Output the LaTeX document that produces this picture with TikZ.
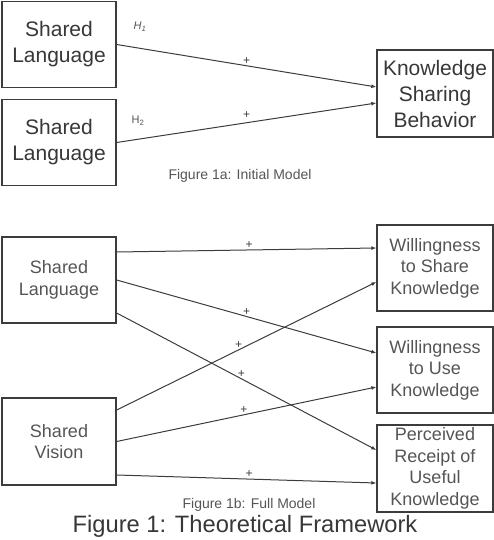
\documentclass[tikz,border=0pt]{standalone}
\usepackage{fontspec}
\setmainfont{Liberation Sans}
\usetikzlibrary{arrows.meta,positioning}
\definecolor{BoxGray}{RGB}{60,60,60}
\definecolor{TextGray}{RGB}{55,55,55}
\definecolor{SoftText}{RGB}{85,85,85}

\begin{document}
\begin{tikzpicture}[x=1pt, y=-1pt,
    bigbox/.style={draw=BoxGray, line width=1.3pt, minimum width=114pt, minimum height=86pt, inner sep=0pt, align=center, text=TextGray, font=\fontsize{21}{26}\selectfont},
    smallbox/.style={draw=BoxGray, line width=1.3pt, minimum width=114pt, minimum height=86pt, inner sep=0pt, align=center, text=SoftText, font=\fontsize{18}{21.5}\selectfont},
    parrow/.style={-{Latex[length=5pt,width=4pt]}, line width=1pt, draw=BoxGray},
    plus/.style={above=1pt, inner sep=0pt, text=BoxGray, font=\fontsize{12}{14}\selectfont},
    hyp/.style={inner sep=0pt, text=SoftText, font=\fontsize{11}{13}\selectfont},
    figcap/.style={text=SoftText, font=\fontsize{14}{16}\selectfont}
  ]
    \useasboundingbox (0,0) rectangle (494,540);

    % Figure 1a
    \node[bigbox] (lang1) at (59,44.5) {Shared\\Language};
    \node[bigbox] (lang2) at (59,142.5) {Shared\\Language};
    \node[bigbox, minimum width=116pt, minimum height=87pt] (ksb) at (435,93.5) {Knowledge\\Sharing\\Behavior};

    \draw[parrow] (lang1.east) -- node[plus, pos=0.5]{+} ([yshift=6.5pt]ksb.west);
    \draw[parrow] (lang2.east) -- node[plus, pos=0.5, above=4pt]{+} ([yshift=-9.5pt]ksb.west);
    \node[hyp] (h1) at (140,27) {\itshape H\textsubscript{1}};
    \node[hyp] (h2) at (138,121) {H\textsubscript{2}};
    \node[figcap] (capa) at (240,176) {Figure 1a: Initial Model};

    % Figure 1b
    \node[smallbox] (lang) at (59,280) {Shared\\Language};
    \node[smallbox, minimum height=87pt] (vision) at (59,441.5) {Shared\\Vision};
    \node[smallbox, minimum width=116pt] (share) at (435,268) {Willingness\\to Share\\Knowledge};
    \node[smallbox, minimum width=116pt] (use) at (435,370) {Willingness\\to Use\\Knowledge};
    \node[smallbox, minimum width=116pt, minimum height=87pt] (receipt) at (435,468.5) {Perceived\\Receipt of\\Useful\\Knowledge};

    \draw[parrow] ([yshift=28pt]lang.east) -- node[plus, pos=0.51]{+} ([yshift=20pt]share.west);
    \draw[parrow] (lang.east) -- node[plus, pos=0.5]{+} ([yshift=17pt]use.west);
    \draw[parrow] ([yshift=-33pt]lang.east) -- node[plus, pos=0.48]{+} ([yshift=18.5pt]receipt.west);
    \draw[parrow] ([yshift=31.5pt]vision.east) -- node[plus, pos=0.47]{+} ([yshift=-14pt]share.west);
    \draw[parrow] (vision.east) -- node[plus, pos=0.49]{+} ([yshift=-17pt]use.west);
    \draw[parrow] ([yshift=-33.5pt]vision.east) -- node[plus, pos=0.51]{+} ([yshift=-14.5pt]receipt.west);

    \node[figcap] (capb) at (249,505) {Figure 1b: Full Model};
    \node[text=TextGray, font=\fontsize{23.7}{26}\selectfont] (title) at (245,526) {Figure 1: Theoretical Framework};
\end{tikzpicture}
\end{document}
